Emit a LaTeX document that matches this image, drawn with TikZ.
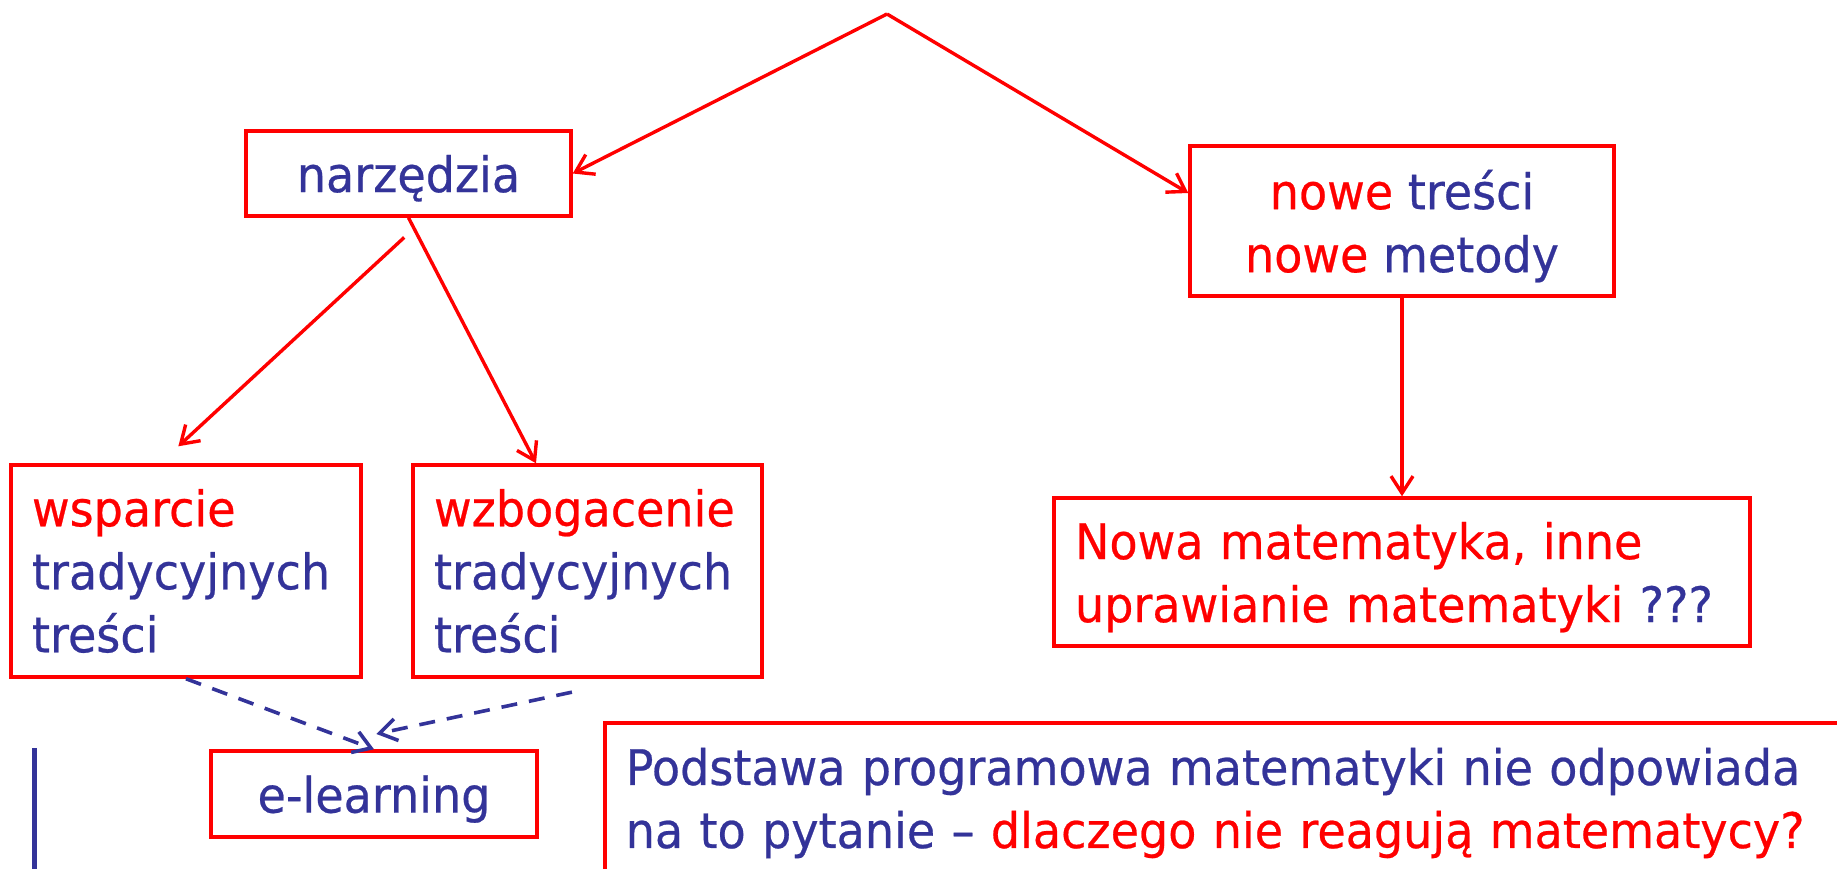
\documentclass[tikz,border=0pt]{standalone}
\usepackage{fontspec}
\setmainfont{DejaVu Sans}[FakeStretch=0.94,FakeBold=0.5]
\usetikzlibrary{arrows.meta,calc}
\definecolor{tred}{RGB}{255,0,0}
\definecolor{tblue}{RGB}{51,51,153}
\begin{document}
\begin{tikzpicture}[x=1pt,y=-1pt,
  box/.style={draw=tred, line width=3.5pt, inner sep=0pt, font=\fontsize{49}{63}\selectfont, text=tblue},
  lbox/.style={box, align=left, inner xsep=21pt},
  conn/.style={draw=tred, line width=3.4pt, -{Straight Barb[length=17pt,width=22pt]}},
  dconn/.style={draw=tblue, line width=3.6pt, dash pattern=on 16pt off 12pt, -{Straight Barb[length=17pt,width=22pt]}},
  rule/.style={draw=tblue, line width=5pt}
]
\useasboundingbox (0,0) rectangle (1837,868);
\clip (0,0) rectangle (1837,868);
\fill[white] (0,0) rectangle (1837,868);

\node[box, text depth=0pt, minimum width=325pt, minimum height=85pt] (narz) at (408.5,173.5) {narzędzia};
\node[box, align=center, text depth=0pt, minimum width=424pt, minimum height=150pt] (nowe) at (1402,221)
  {\textcolor{tred}{nowe} treści\\\textcolor{tred}{nowe} metody};
\node[lbox, text width=654pt, text depth=63pt, minimum height=148pt] (nowa) at (1402,572)
  {\textcolor{tred}{Nowa matematyka, inne}\\\textcolor{tred}{uprawianie matematyki} ???};
\node[lbox, text width=308pt, minimum height=212pt] (wsp) at (186,571)
  {\textcolor{tred}{wsparcie}\\tradycyjnych\\treści};
\node[lbox, text width=307pt, minimum height=212pt] (wzb) at (587.5,571)
  {\textcolor{tred}{wzbogacenie}\\tradycyjnych\\treści};
\node[box, text depth=0pt, minimum width=326pt, minimum height=86pt] (elearn) at (374,794) {e-learning};
\node[lbox, anchor=north west, text width=1400pt, inner ysep=25pt] (pod) at (603,721)
  {Podstawa programowa matematyki nie odpowiada\\na to pytanie – \textcolor{tred}{dlaczego nie reagują matematycy?}};

\coordinate (apex) at (887,14);
\coordinate (ruletop) at (34,748);
\coordinate (rulebot) at (34,880);

\draw[conn] (apex) -- (narz.east);
\draw[conn] (apex) -- ([yshift=28pt]nowe.west);
\draw[conn, shorten <=29pt, shorten >=25pt] ([xshift=17pt]narz.south) -- ([xshift=-26pt]wsp.north);
\draw[conn] (narz.south) -- ([xshift=-51.5pt]wzb.north);
\draw[conn] (nowe.south) -- (nowa.north);
\draw[dconn] (wsp.south) -- (elearn.north);
\draw[dconn, shorten <=64pt, shorten >=73pt] ([xshift=47pt]wzb.south) -- ([xshift=-69pt]elearn.north);
\draw[rule] (ruletop) -- (rulebot);
\end{tikzpicture}
\end{document}
